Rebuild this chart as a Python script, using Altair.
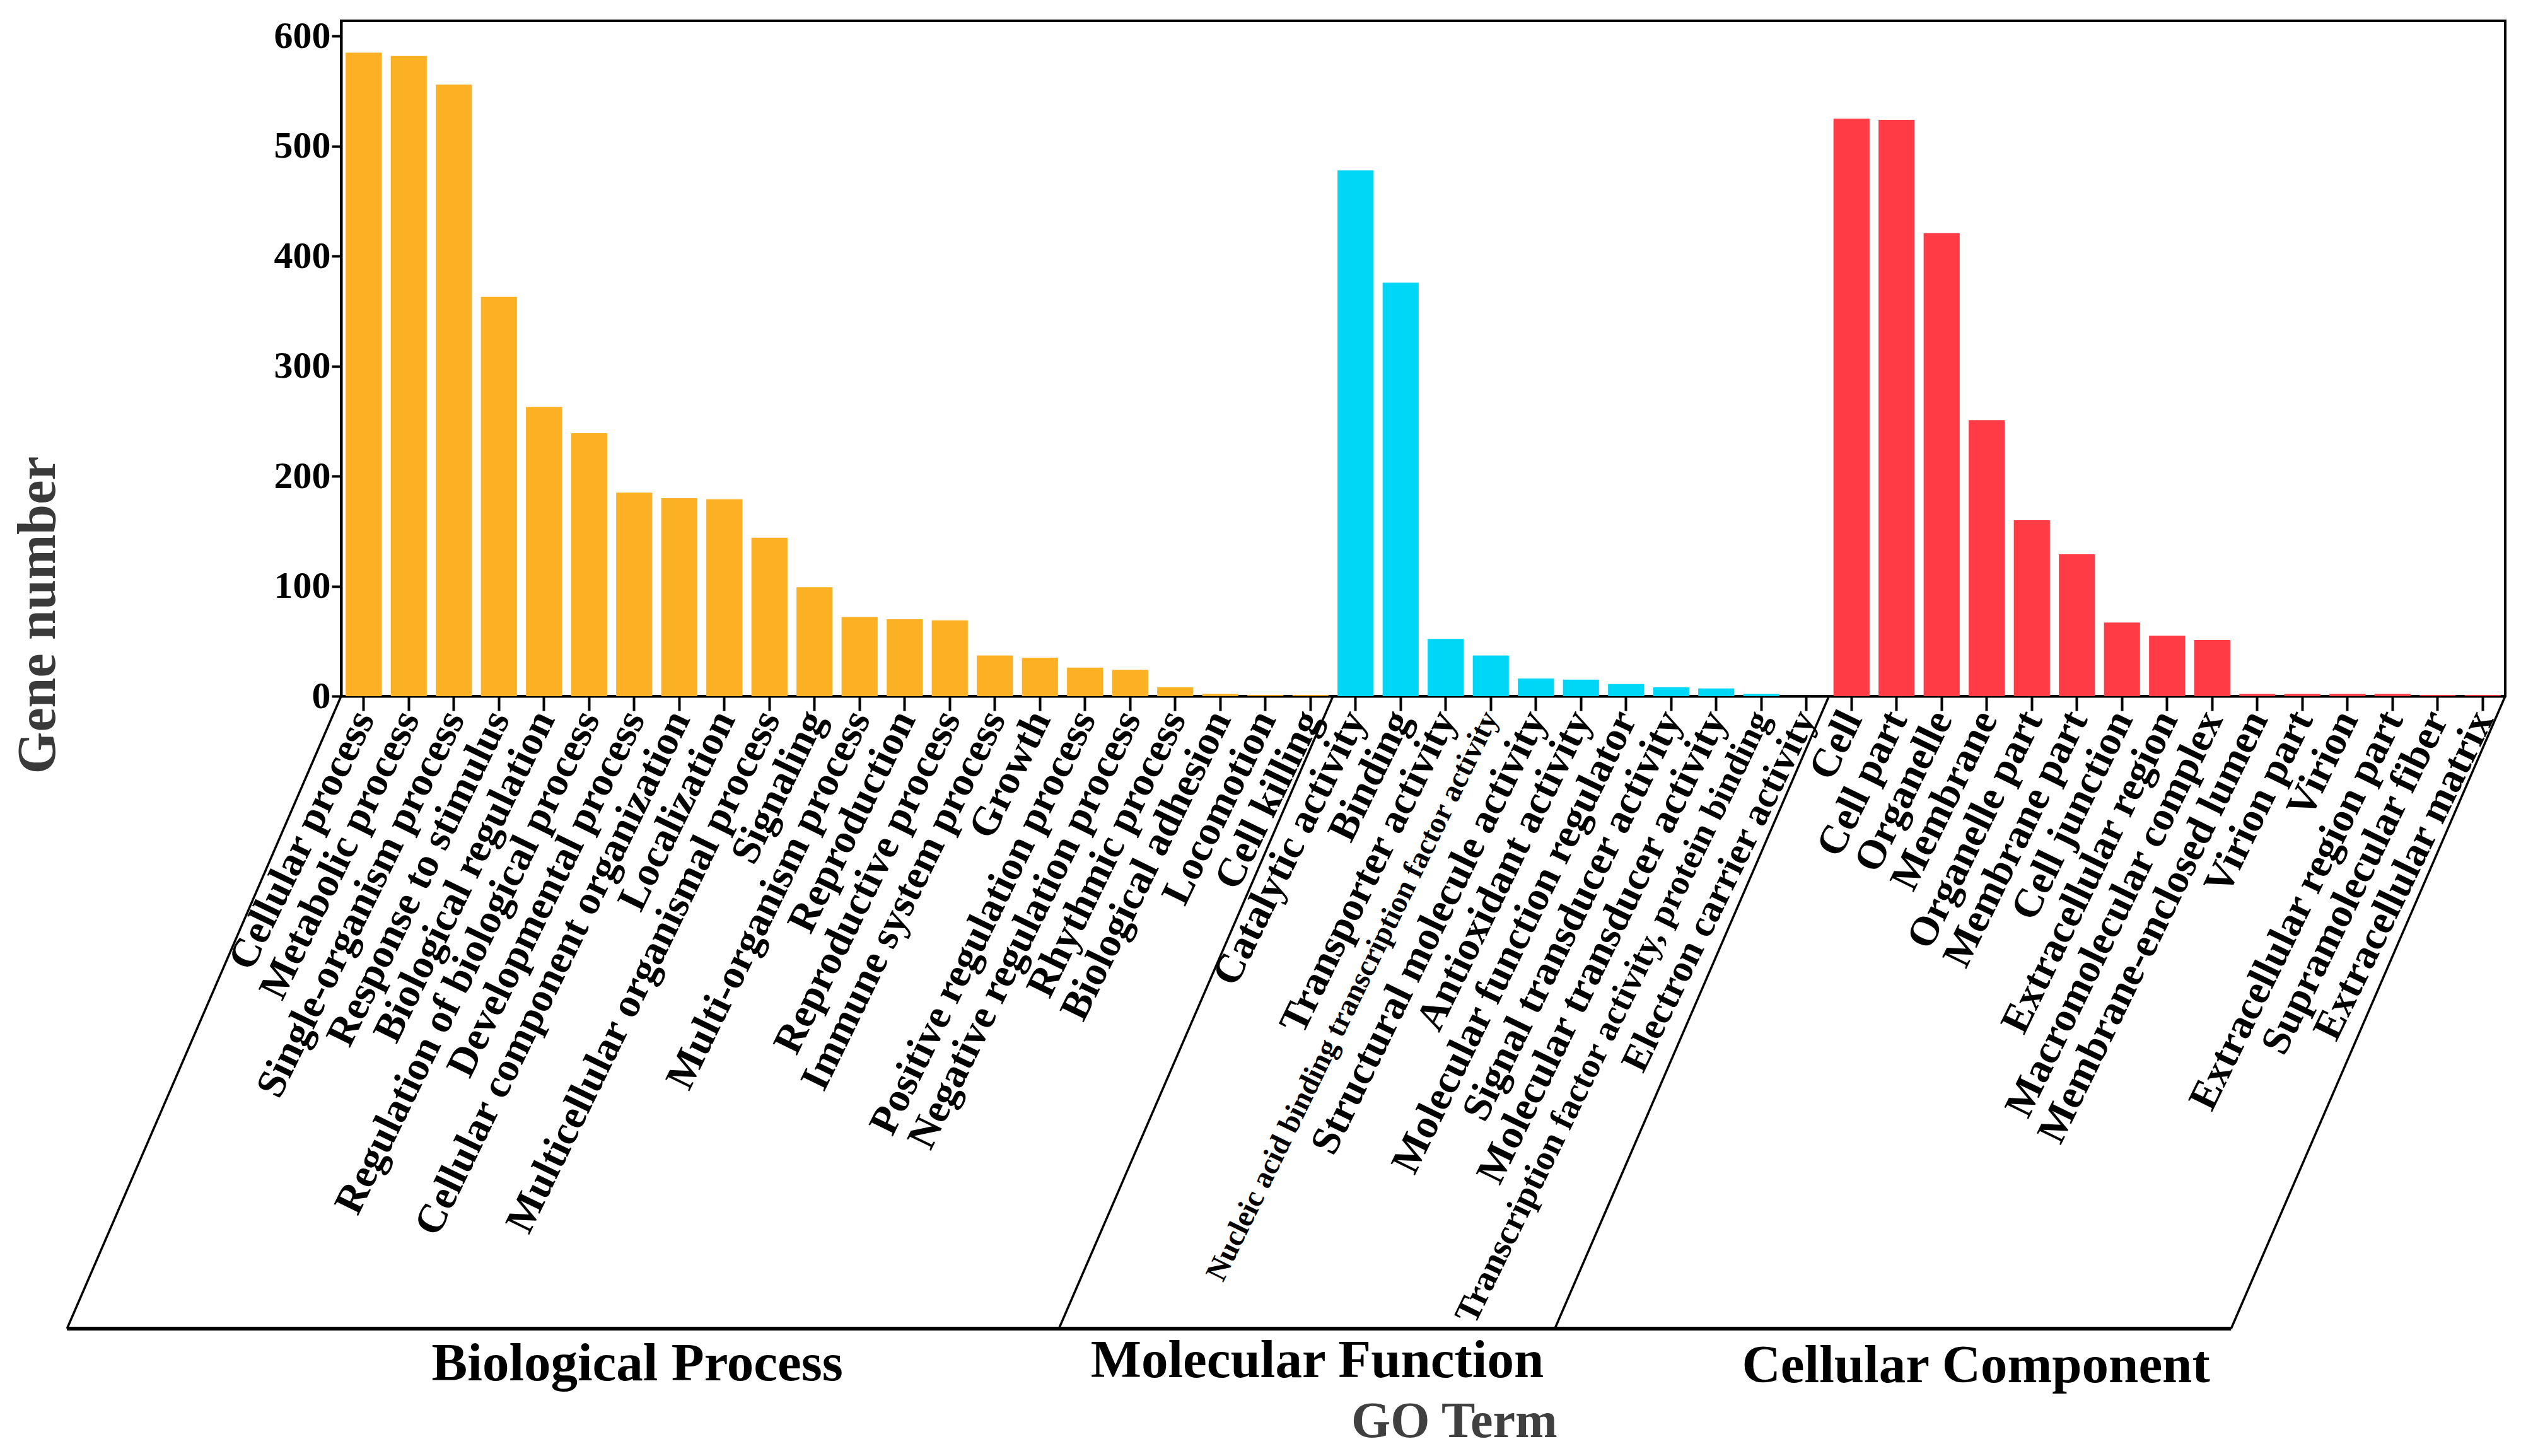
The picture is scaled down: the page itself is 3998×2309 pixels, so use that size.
import altair as alt
import pandas as pd

# ---------------- data ----------------
bp_terms = [
    "Cellular process", "Metabolic process", "Single-organism process",
    "Response to stimulus", "Biological regulation",
    "Regulation of biological process", "Developmental process",
    "Cellular component organization", "Localization",
    "Multicellular organismal process", "Signaling", "Multi-organism process",
    "Reproduction", "Reproductive process", "Immune system process", "Growth",
    "Positive regulation process", "Negative regulation process",
    "Rhythmic process", "Biological adhesion", "Locomotion", "Cell killing",
]
bp_values = [585, 582, 556, 363, 263, 239, 185, 180, 179, 144, 99, 72, 70, 69,
             37, 35, 26, 24, 8, 2, 1, 1]

mf_terms = [
    "Catalytic activity", "Binding", "Transporter activity",
    "Nucleic acid binding transcription factor activity",
    "Structural molecule activity", "Antioxidant activity",
    "Molecular function regulator", "Signal transducer activity",
    "Molecular transducer activity",
    "Transcription factor activity, protein binding",
    "Electron carrier activity",
]
mf_values = [478, 376, 52, 37, 16, 15, 11, 8, 7, 2, 0]

cc_terms = [
    "Cell", "Cell part", "Organelle", "Membrane", "Organelle part",
    "Membrane part", "Cell junction", "Extracellular region",
    "Macromolecular complex", "Membrane-enclosed lumen", "Virion part",
    "Virion", "Extracellular region part", "Supramolecular fiber",
    "Extracellular matrix",
]
cc_values = [525, 524, 421, 251, 160, 129, 67, 55, 51, 2, 2, 2, 2, 1, 1]

groups = ["Biological Process", "Molecular Function", "Cellular Component"]
group_colors = ["#FCB024", "#00D7F7", "#FF3C46"]
group_label_pos = [6.57, 21.65, 36.26]   # label centres, in category units
axis_title_x = "GO Term"
axis_title_x_pos = 24.69
y_ticks = [0, 100, 200, 300, 400, 500, 600]
small_label = "Nucleic acid binding transcription factor activity"
mid_label = "Transcription factor activity, protein binding"
ec_label = "Electron carrier activity"

# ---------------- tables ----------------
terms = bp_terms + mf_terms + cc_terms
values = bp_values + mf_values + cc_values
grp = ([groups[0]] * len(bp_terms) + [groups[1]] * len(mf_terms)
       + [groups[2]] * len(cc_terms))
df = pd.DataFrame({"term": terms, "value": values, "group": grp})
n = len(terms)

counts = [len(bp_terms), len(mf_terms), len(cc_terms)]
bounds = [0]
for c in counts:
    bounds.append(bounds[-1] + c)

SKEW = 6.08    # horizontal shift of the slanted box, in category units
DEPTH = 575    # depth of the slanted box, in gene-number units

diag_df = pd.DataFrame({
    "x": bounds,
    "x2": [b - SKEW for b in bounds],
    "y": [0] * len(bounds),
    "y2": [-DEPTH] * len(bounds),
})
base_df = pd.DataFrame({"x": [0 - SKEW], "x2": [n - SKEW],
                        "y": [-DEPTH]})
glab_df = pd.DataFrame({"x": group_label_pos, "label": groups,
                        "y": [-607, -604, -609]})
gtitle_df = pd.DataFrame({"x": [axis_title_x_pos], "label": [axis_title_x],
                          "y": [-660]})

FONT = "Liberation Serif"
yscale = alt.Scale(domain=[0, 614], nice=False, zero=True)
qx = alt.Scale(domain=[0, n], nice=False, zero=False)

yaxis = alt.Axis(
    values=y_ticks, grid=False, title="Gene number",
    titleFont=FONT, titleFontWeight="bold", titleFontSize=86,
    titleColor="#3a3a3a", titleAngle=270, titleX=-481, titleY=942,
    titleAlign="center", titleBaseline="middle",
    labelFont=FONT, labelFontWeight="bold", labelFontSize=60,
    labelColor="black", labelPadding=2, tickSize=15, tickWidth=4,
    tickColor="black", domainColor="black", domainWidth=4,
)

label_size = {
    "condition": [
        {"test": f"datum.value === '{small_label}'", "value": 48},
        {"test": f"datum.value === '{mid_label}'", "value": 56},
        {"test": f"datum.value === '{ec_label}'", "value": 61},
    ],
    "value": 65,
}

bars = alt.Chart(df).mark_bar().encode(
    x=alt.X(
        "term:N", sort=terms,
        scale=alt.Scale(paddingInner=0.2, paddingOuter=0.1),
        axis=alt.Axis(
            title=None, labelAngle=-64, labelAlign="right",
            labelBaseline="middle", labelFont=FONT, labelFontWeight="bold",
            labelFontSize=label_size,
            labelColor="black", labelLimit=3000, labelOverlap=False,
            labelPadding=4, tickSize=23, tickWidth=4, tickColor="black",
            domainColor="black", domainWidth=4,
        ),
    ),
    y=alt.Y("value:Q", scale=yscale, axis=yaxis),
    color=alt.Color("group:N", scale=alt.Scale(domain=groups, range=group_colors),
                    legend=None),
)

diag = alt.Chart(diag_df).mark_rule(color="black", strokeWidth=3.5).encode(
    x=alt.X("x:Q", scale=qx, axis=None),
    x2="x2:Q",
    y=alt.Y("y:Q", scale=yscale, axis=yaxis),
    y2="y2:Q",
)

baseline = alt.Chart(base_df).mark_rule(color="black", strokeWidth=6).encode(
    x=alt.X("x:Q", scale=qx, axis=None),
    x2="x2:Q",
    y=alt.Y("y:Q", scale=yscale, axis=yaxis),
)

glabels = alt.Chart(glab_df).mark_text(
    font=FONT, fontWeight="bold", fontSize=85, color="black",
    align="center", baseline="middle",
).encode(
    x=alt.X("x:Q", scale=qx, axis=None),
    y=alt.Y("y:Q", scale=yscale, axis=yaxis),
    text="label:N",
)

gtitle = alt.Chart(gtitle_df).mark_text(
    font=FONT, fontWeight="bold", fontSize=80, color="#404040",
    align="center", baseline="middle",
).encode(
    x=alt.X("x:Q", scale=qx, axis=None),
    y=alt.Y("y:Q", scale=yscale, axis=yaxis),
    text="label:N",
)

chart = alt.layer(bars, diag, baseline, glabels, gtitle).resolve_scale(
    x="independent"
).properties(
    width=3432, height=1071,
    autosize=alt.AutoSizeParams(type="none"),
    padding={"left": 533, "top": 25, "right": 17, "bottom": 1196},
    background="white",
).configure_view(stroke="black", strokeWidth=4)

chart.save("out.html", embed_options={"renderer": "svg", "actions": False})
